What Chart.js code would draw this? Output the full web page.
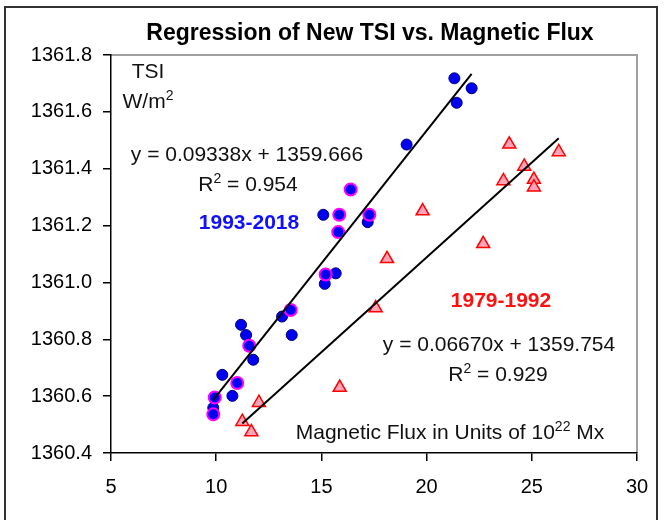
<!DOCTYPE html>
<html>
<head>
<meta charset="utf-8">
<script src="https://cdn.jsdelivr.net/npm/chart.js@4.4.1/dist/chart.umd.min.js"></script>
<style>
  html, body { margin: 0; padding: 0; background: #fff; }
  #wrap { width: 667px; height: 520px; }
</style>
</head>
<body>
<div id="wrap"><canvas id="myChart" width="667" height="520"></canvas></div>
<script>
const xTicks = [5, 10, 15, 20, 25, 30];
const yTicks = [1360.4, 1360.6, 1360.8, 1361.0, 1361.2, 1361.4, 1361.6, 1361.8];

// 1993-2018, plain blue markers
const newFlux = [21.32, 22.14, 21.43, 19.05, 15.09, 17.20, 15.68, 15.16, 13.13, 13.59, 11.18, 11.42, 11.76, 10.29, 10.77, 9.86];
const newTsi = [1361.718, 1361.683, 1361.632, 1361.485, 1361.238, 1361.212, 1361.032, 1360.995, 1360.880, 1360.815, 1360.851, 1360.815, 1360.728, 1360.675, 1360.601, 1360.559];
// 1993-2018, blue markers with a magenta ring
const ringFlux = [16.39, 15.85, 17.28, 15.80, 15.20, 13.54, 11.57, 11.00, 9.93, 9.86];
const ringTsi = [1361.327, 1361.238, 1361.238, 1361.177, 1361.028, 1360.903, 1360.777, 1360.646, 1360.595, 1360.536];
// 1979-1992
const oldFlux = [23.93, 26.28, 24.64, 23.65, 25.10, 25.10, 19.81, 22.69, 18.12, 17.58, 15.87, 12.03, 11.24, 11.67];
const oldTsi = [1361.486, 1361.459, 1361.408, 1361.357, 1361.362, 1361.335, 1361.251, 1361.136, 1361.083, 1360.910, 1360.630, 1360.577, 1360.510, 1360.474];

// regression equations as printed on the chart: [1993-2018, 1979-1992]
const fitSlope = [0.09338, 0.06670];
const fitIntercept = [1359.666, 1359.754];

const FONT = "'Liberation Sans', Arial, sans-serif";
Chart.defaults.font.family = FONT;
Chart.defaults.color = '#000';

function toPoints(xs, ys) {
    return xs.map((x, i) => ({ x: x, y: ys[i] }));
}

function fitLine(xs, k) {
    const lo = Math.min(...xs), hi = Math.max(...xs);
    return [lo, hi].map(x => ({ x: x, y: fitSlope[k] * x + fitIntercept[k] }));
}

// text with superscripts: parts = [[text, isSup], ...]
function drawRich(ctx, parts, cx, baseline, size, bold, color) {
    const w = bold ? 'bold ' : '';
    let total = 0;
    parts.forEach(([t, sup]) => {
        ctx.font = w + (sup ? Math.round(size * 0.65) : size) + 'px ' + FONT;
        total += ctx.measureText(t).width;
    });
    let x = cx - total / 2;
    ctx.fillStyle = color;
    ctx.textBaseline = 'alphabetic';
    ctx.textAlign = 'left';
    parts.forEach(([t, sup]) => {
        ctx.font = w + (sup ? Math.round(size * 0.65) : size) + 'px ' + FONT;
        ctx.fillText(t, x, sup ? baseline - size * 0.4 : baseline);
        x += ctx.measureText(t).width;
    });
}

const decor = {
    id: 'decor',
    beforeDraw(chart) {
        const ctx = chart.ctx;
        const a = chart.chartArea;
        ctx.save();
        ctx.fillStyle = '#fff';
        ctx.fillRect(0, 0, chart.width, chart.height);
        ctx.strokeStyle = '#333';
        ctx.lineWidth = 2;
        ctx.strokeRect(5, 7, 652, 540);
        ctx.strokeStyle = '#a0a0a0';
        ctx.lineWidth = 2;
        ctx.beginPath();
        ctx.moveTo(a.left, a.top);
        ctx.lineTo(a.right, a.top);
        ctx.lineTo(a.right, a.bottom);
        ctx.stroke();
        ctx.restore();
    },
    afterDraw(chart) {
        const ctx = chart.ctx;
        ctx.save();
        drawRich(ctx, [['Regression of New TSI vs. Magnetic Flux', false]], 370, 40, 23, true, '#000');
        drawRich(ctx, [['TSI', false]], 148, 78, 21, false, '#111');
        drawRich(ctx, [['W/m', false], ['2', true]], 148, 108, 21, false, '#111');
        drawRich(ctx, [['y = 0.09338x + 1359.666', false]], 247, 161, 21, false, '#111');
        drawRich(ctx, [['R', false], ['2', true], [' = 0.954', false]], 248, 191, 21, false, '#111');
        drawRich(ctx, [['1993-2018', false]], 249, 229, 21, true, '#1010ff');
        drawRich(ctx, [['1979-1992', false]], 501, 307, 21, true, '#ff1010');
        drawRich(ctx, [['y = 0.06670x + 1359.754', false]], 499, 351, 21, false, '#111');
        drawRich(ctx, [['R', false], ['2', true], [' = 0.929', false]], 498, 381, 21, false, '#111');
        drawRich(ctx, [['Magnetic Flux in Units of 10', false], ['22', true], [' Mx', false]], 450, 439, 21, false, '#111');
        ctx.restore();
    }
};

const chart = new Chart(document.getElementById('myChart').getContext('2d'), {
    type: 'scatter',
    data: {
        datasets: [
            {
                label: 'fit 1993-2018',
                data: fitLine(newFlux.concat(ringFlux), 0),
                showLine: true,
                borderColor: '#000',
                borderWidth: 2,
                pointRadius: 0,
                order: 0
            },
            {
                label: 'fit 1979-1992',
                data: fitLine(oldFlux, 1),
                showLine: true,
                borderColor: '#000',
                borderWidth: 2,
                pointRadius: 0,
                order: 0
            },
            {
                label: '1979-1992',
                data: toPoints(oldFlux, oldTsi),
                pointStyle: 'triangle',
                pointRadius: 7.5,
                backgroundColor: '#ffa3b8',
                borderColor: '#ff0000',
                borderWidth: 1.5,
                order: 1
            },
            {
                label: '1993-2018 ring',
                data: toPoints(ringFlux, ringTsi),
                pointStyle: 'circle',
                pointRadius: 6,
                backgroundColor: '#0000f0',
                borderColor: '#ff00ff',
                borderWidth: 2,
                order: 1
            },
            {
                label: '1993-2018',
                data: toPoints(newFlux, newTsi),
                pointStyle: 'circle',
                pointRadius: 5.5,
                backgroundColor: '#0000f0',
                borderColor: '#000080',
                borderWidth: 1,
                order: 1
            }
        ]
    },
    options: {
        responsive: false,
        animation: false,
        layout: { padding: { top: 55, right: 30, left: 0, bottom: 0 } },
        plugins: {
            legend: { display: false },
            tooltip: { enabled: false }
        },
        scales: {
            x: {
                type: 'linear',
                min: 5,
                max: 30,
                afterBuildTicks: s => { s.ticks = xTicks.map(v => ({ value: v })); },
                afterFit: s => { s.height = 67; },
                ticks: { font: { size: 20 }, color: '#000', padding: 14, maxRotation: 0 },
                grid: { drawOnChartArea: false, tickLength: 8, color: '#000', lineWidth: 1.5 },
                border: { color: '#000', width: 1.5 }
            },
            y: {
                type: 'linear',
                min: 1360.4,
                max: 1361.8,
                afterBuildTicks: s => { s.ticks = yTicks.map(v => ({ value: v })); },
                afterFit: s => { s.width = 111; },
                ticks: { font: { size: 20 }, color: '#000', padding: 11, callback: v => v.toFixed(1) },
                grid: { drawOnChartArea: false, tickLength: 8, color: '#000', lineWidth: 1.5 },
                border: { color: '#000', width: 1.5 }
            }
        }
    },
    plugins: [decor]
});
</script>
</body>
</html>
